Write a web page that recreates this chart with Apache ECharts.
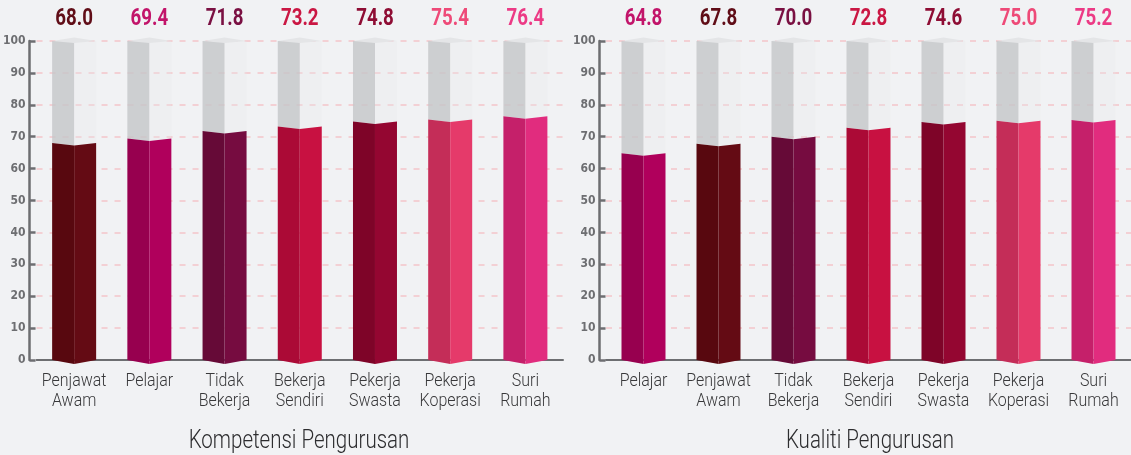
<!DOCTYPE html>
<html>
<head>
<meta charset="utf-8">
<script src="https://cdn.jsdelivr.net/npm/echarts@6/dist/echarts.min.js"></script>
<style>
  html, body { margin: 0; padding: 0; background: #f1f2f4; }
  #chart { width: 1131px; height: 455px; }
</style>
</head>
<body>
<div id="chart"></div>
<script>
// Survey scores by occupation group (0–100)
const kompetensiCategories = ['Penjawat Awam', 'Pelajar', 'Tidak Bekerja', 'Bekerja Sendiri', 'Pekerja Swasta', 'Pekerja Koperasi', 'Suri Rumah'];
const kompetensiValues = [68.0, 69.4, 71.8, 73.2, 74.8, 75.4, 76.4];

const kualitiCategories = ['Pelajar', 'Penjawat Awam', 'Tidak Bekerja', 'Bekerja Sendiri', 'Pekerja Swasta', 'Pekerja Koperasi', 'Suri Rumah'];
const kualitiValues = [64.8, 67.8, 70.0, 72.8, 74.6, 75.0, 75.2];

const axisTitles = ['Kompetensi Pengurusan', 'Kualiti Pengurusan'];
const yMin = 0, yMax = 100, yStep = 10;

// Prism colours per group: [shaded face, lit face, value label]
const groupColours = {
  'Penjawat Awam':    ['#58080f', '#640b14', '#600d17'],
  'Pelajar':          ['#97004f', '#b0005c', '#c2146a'],
  'Tidak Bekerja':    ['#660a37', '#760c40', '#7a1042'],
  'Bekerja Sendiri':  ['#ab0a36', '#c81141', '#ca1743'],
  'Pekerja Swasta':   ['#7e0428', '#940631', '#8e0d34'],
  'Pekerja Koperasi': ['#c42d58', '#e53a6a', '#ee4a78'],
  'Suri Rumah':       ['#c5206a', '#e12c7e', '#ec3a85']
};

const narrow = '"DejaVu Sans Condensed", "Liberation Sans Narrow", sans-serif';
const BAR_W = 44;
const SQUEEZE = 0.8;   // horizontal compression for the condensed look of the text

function makeRenderer(categories) {
  return function (params, api) {
    const idx = api.value(0);
    const val = api.value(1);
    const name = categories[idx];
    const cols = groupColours[name];
    const top = api.coord([idx, val]);
    const base = api.coord([idx, yMin]);
    const full = api.coord([idx, yMax]);
    const cx = top[0];
    const L = cx - BAR_W / 2, R = cx + BAR_W / 2;
    const yv = top[1], y0 = base[1], y100 = full[1];
    const dip = 2.5, drop = 4;
    return {
      type: 'group',
      children: [
        // empty column behind the filled part
        { type: 'polygon', shape: { points: [[L, y100], [cx, y100], [cx, yv + dip], [L, yv]] },
          style: { fill: 'rgba(196,197,200,0.8)' } },
        { type: 'polygon', shape: { points: [[cx, y100], [R, y100], [R, yv], [cx, yv + dip]] },
          style: { fill: 'rgba(232,233,236,0.3)' } },
        // column cap
        { type: 'polygon', shape: { points: [[L, y100], [cx, y100 - 3.5], [R, y100], [cx, y100 + 2]] },
          style: { fill: '#e4e5e7' } },
        // filled prism: shaded face and lit face
        { type: 'polygon', shape: { points: [[L, yv], [cx, yv + dip], [cx, y0 + drop], [L, y0]] },
          style: { fill: cols[0] } },
        { type: 'polygon', shape: { points: [[cx, yv + dip], [R, yv], [R, y0], [cx, y0 + drop]] },
          style: { fill: cols[1] } },
        // value label above the column
        { type: 'text', x: cx, y: y100 - 22, scaleX: 0.78,
          style: { text: val.toFixed(1), x: 0, y: 0, align: 'center', verticalAlign: 'middle',
            font: 'bold 24px Roboto, sans-serif', fill: cols[2] } },
        // category name under the axis
        { type: 'text', x: cx, y: y0 + 11, scaleX: 0.84,
          style: { text: name.replace(' ', '\n'), x: 0, y: 0, align: 'center', verticalAlign: 'top',
            font: '300 19px Roboto, sans-serif', lineHeight: 20, fill: '#38383a' } }
      ]
    };
  };
}

function xAxisFor(gridIndex, categories) {
  return {
    type: 'category', gridIndex: gridIndex, data: categories,
    axisLine: { show: true, lineStyle: { color: '#6d6e71', width: 2 } },
    axisTick: { show: false },
    axisLabel: { show: false },
    splitLine: { show: false },
    z: 1
  };
}

function yAxisFor(gridIndex, offset) {
  return {
    type: 'value', gridIndex: gridIndex, min: yMin, max: yMax, interval: yStep, offset: offset,
    axisLine: { show: true, lineStyle: { color: '#6d6e71', width: 2.5 } },
    axisTick: { show: true, inside: true, length: 6, lineStyle: { color: '#6d6e71', width: 2.5 } },
    axisLabel: { margin: 4, fontFamily: narrow, fontWeight: 'bold', fontSize: 12, color: '#6d6e71' },
    splitLine: { show: true, lineStyle: { color: '#f4c5c9', width: 1.5, type: [6, 7] } }
  };
}

function titleText(text, x) {
  return { type: 'text', x: x, y: 442, scaleX: 0.82,
    style: { text: text, x: 0, y: 0, align: 'center', verticalAlign: 'middle',
      font: '300 25px Roboto, sans-serif', fill: '#2d2d2f' } };
}

const chart = echarts.init(document.getElementById('chart'), null, { renderer: 'canvas' });
chart.setOption({
  backgroundColor: '#f1f2f4',
  animation: false,
  grid: [
    { left: 35, right: 1131 - 563, top: 41, bottom: 95 },
    { left: 606, right: -3, top: 41, bottom: 95 }
  ],
  xAxis: [xAxisFor(0, kompetensiCategories), xAxisFor(1, kualitiCategories)],
  yAxis: [yAxisFor(0, 7), yAxisFor(1, 6.5)],
  graphic: [titleText(axisTitles[0], 299), titleText(axisTitles[1], 870)],
  series: [
    { type: 'custom', xAxisIndex: 0, yAxisIndex: 0, renderItem: makeRenderer(kompetensiCategories),
      data: kompetensiValues.map(function (v, i) { return [i, v]; }), encode: { x: 0, y: 1 }, clip: false, z: 3 },
    { type: 'custom', xAxisIndex: 1, yAxisIndex: 1, renderItem: makeRenderer(kualitiCategories),
      data: kualitiValues.map(function (v, i) { return [i, v]; }), encode: { x: 0, y: 1 }, clip: false, z: 3 }
  ]
});
</script>
</body>
</html>
